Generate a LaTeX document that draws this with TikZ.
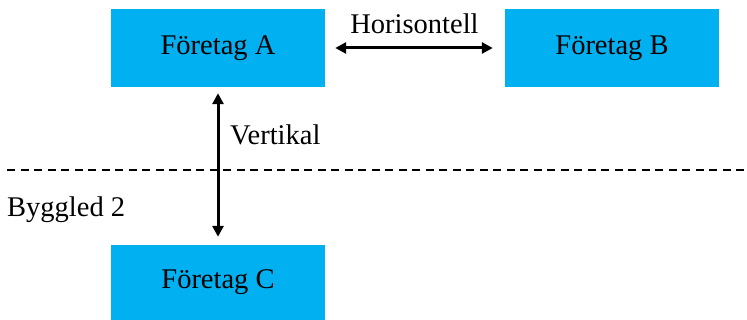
\documentclass[tikz,border=0pt]{standalone}
\usepackage{fontspec}
\setmainfont{Liberation Serif}
\usetikzlibrary{arrows.meta}
\definecolor{boxblue}{HTML}{00B0F0}
\begin{document}
\begin{tikzpicture}[x=1pt,y=-1pt,
  company/.style={fill=boxblue, draw=none, minimum width=214pt, minimum height=78pt,
    inner sep=0pt, font=\fontsize{28.5}{32}\selectfont},
  caption/.style={inner sep=0pt, font=\fontsize{28.5}{32}\selectfont},
  link/.style={line width=3pt, {Triangle[length=11pt,width=11pt]}-{Triangle[length=11pt,width=11pt]}},
  divider/.style={line width=1.5pt, dash pattern=on 8pt off 5.5pt}]
  \useasboundingbox (0,0) rectangle (747,320);

  % companies
  \node[company] (a) at (218,48) {Företag A};
  \node[company] (b) at (612,48) {Företag B};
  \node[company, minimum height=75pt] (c) at (218,282.5) {Företag C};

  % level boundary
  \coordinate (dl) at (7,170);
  \coordinate (dr) at (747,170);
  \draw[divider] (dl) -- (dr);

  % relations
  \draw[link, shorten <=10pt, shorten >=12pt] (a.east) -- (b.west);
  \draw[link, shorten <=6pt, shorten >=8pt] (a.south) -- (c.north);

  % labels
  \node[caption, anchor=base] (h) at (414.5,34) {Horisontell};
  \node[caption, anchor=base west] (v) at (230,145) {Vertikal};
  \node[caption, anchor=base west] (g) at (7,217) {Byggled 2};
\end{tikzpicture}
\end{document}
